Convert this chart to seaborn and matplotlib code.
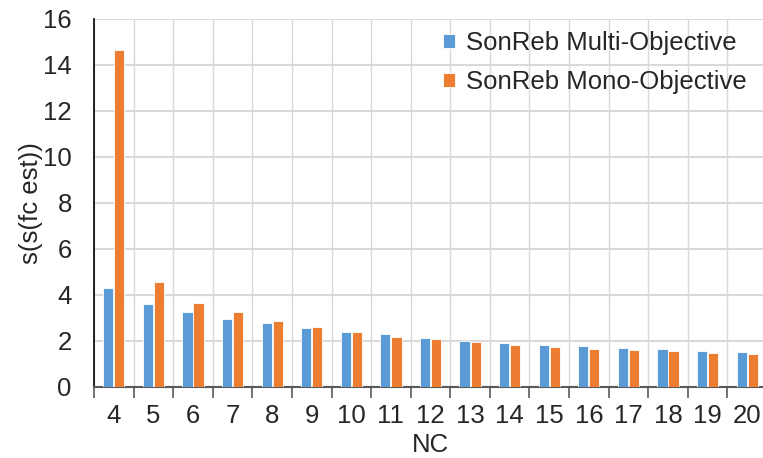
import matplotlib
matplotlib.use("Agg")
import matplotlib.pyplot as plt
import matplotlib.ticker as ticker
import numpy as np
import pandas as pd
import seaborn as sns

NC = [str(n) for n in range(4, 21)]
MULTI = [4.29, 3.61, 3.25, 2.97, 2.78, 2.57, 2.38, 2.29, 2.15, 2.01,
         1.91, 1.83, 1.78, 1.70, 1.65, 1.57, 1.52]
MONO = [14.65, 4.57, 3.65, 3.25, 2.88, 2.61, 2.38, 2.19, 2.07, 1.97,
        1.83, 1.74, 1.65, 1.61, 1.57, 1.47, 1.43]
SERIES = ["SonReb Multi-Objective", "SonReb Mono-Objective"]
COLORS = ["#5B9BD5", "#ED7D31"]

FS = 18.5

sns.set_theme(style="white")
plt.rcParams["font.family"] = ["Liberation Sans", "DejaVu Sans"]

df = pd.DataFrame({
    "NC": NC * 2,
    "value": MULTI + MONO,
    "series": [SERIES[0]] * len(NC) + [SERIES[1]] * len(NC),
})

fig = plt.figure(figsize=(7.63, 4.58), dpi=100)
ax = fig.add_axes([94 / 763, 1 - 387 / 458, (767 - 94) / 763, (387 - 19) / 458])

sns.barplot(data=df, x="NC", y="value", hue="series", order=NC,
            hue_order=SERIES, palette=COLORS, width=0.56, gap=0.08,
            edgecolor="white", linewidth=0.6, saturation=1, ax=ax, zorder=3)

ax.set_xlim(-0.5, len(NC) - 0.5)
ax.set_ylim(0, 16)
ax.yaxis.set_major_locator(ticker.MultipleLocator(2))

# category boundaries: tick marks + vertical grid
ax.xaxis.set_minor_locator(ticker.FixedLocator(np.arange(-0.5, len(NC), 1.0)))
ax.tick_params(axis="x", which="major", length=0, pad=12, labelsize=FS,
               colors="#262626")
ax.tick_params(axis="x", which="minor", length=8, width=1.2, color="#595959",
               direction="out", bottom=True)
ax.tick_params(axis="y", length=0, pad=16, labelsize=FS, colors="#262626")
ax.grid(True, which="minor", axis="x", color="#D9D9D9", linewidth=1, zorder=0)
ax.grid(True, which="major", axis="y", color="#D9D9D9", linewidth=1.5, zorder=0)

for s in ["top", "right"]:
    ax.spines[s].set_visible(False)
ax.spines["left"].set_color("black")
ax.spines["left"].set_linewidth(1.2)
ax.spines["bottom"].set_color("#595959")
ax.spines["bottom"].set_linewidth(1.5)

ax.set_xlabel("NC", fontsize=FS, color="#262626", labelpad=4)
ax.set_ylabel("s(s(fc est))", fontsize=FS, color="#262626", labelpad=0)

ax.legend(loc="upper left", bbox_to_anchor=(443 / 763, 1 - 31 / 458),
          bbox_transform=fig.transFigure, frameon=False, fontsize=FS,
          handlelength=0.45, handleheight=0.45, handletextpad=0.45,
          labelspacing=0.6, borderaxespad=0, borderpad=0)

fig.savefig("out.png", dpi=100)
